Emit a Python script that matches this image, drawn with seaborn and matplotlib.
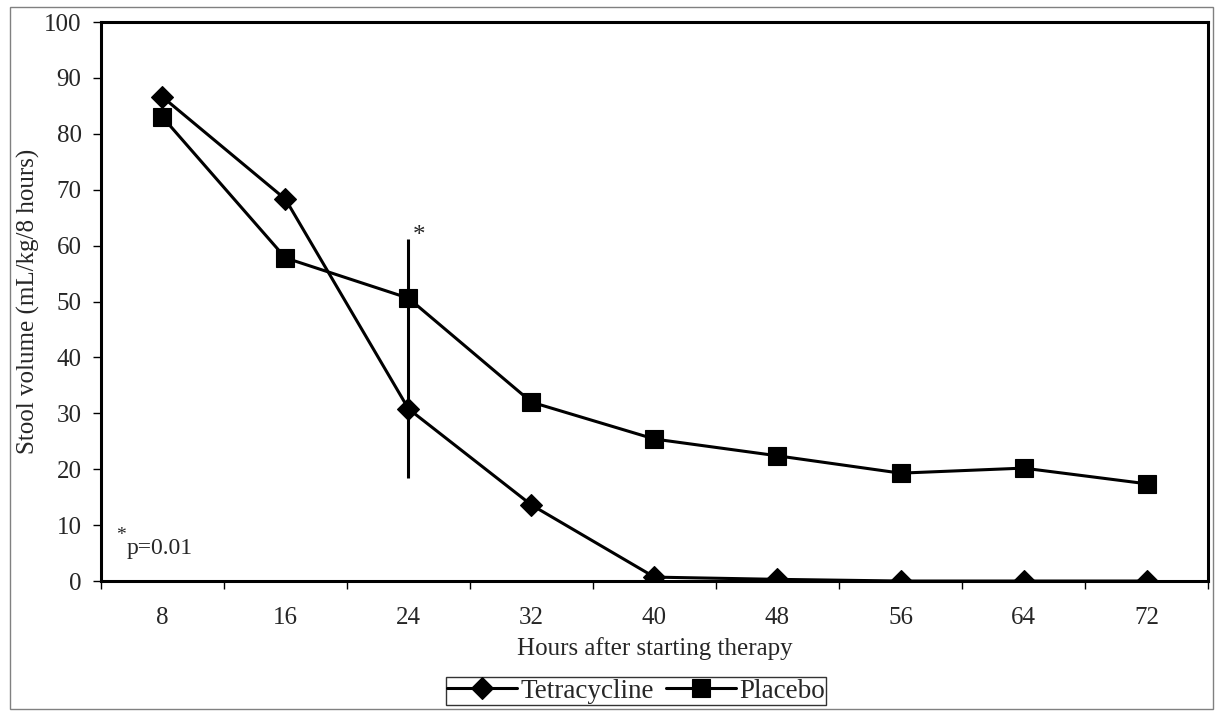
import matplotlib.pyplot as plt
import matplotlib.patches as mpatches
import pandas as pd
import seaborn as sns

# Data
hours = [8, 16, 24, 32, 40, 48, 56, 64, 72]
tetracycline = [86.6, 68.3, 30.8, 13.6, 0.7, 0.3, 0.0, 0.0, 0.0]
placebo = [83.0, 57.8, 50.6, 32.0, 25.4, 22.4, 19.3, 20.2, 17.4]

# vertical bar at 24 h, with the significance mark
bar_hour = 24
bar_low, bar_high = 18.4, 61.2

sns.set_style("white")
plt.rcParams["font.family"] = ["Liberation Serif", "DejaVu Serif"]

df = pd.DataFrame({"hours": hours, "Tetracycline": tetracycline, "Placebo": placebo})

fig = plt.figure(figsize=(12.18, 7.11), dpi=100)
ax = fig.add_axes([0.0829, 0.1828, 0.9089, 0.7862])

sns.lineplot(data=df, x="hours", y="Tetracycline", ax=ax, color="black", linewidth=2.2,
             marker="D", markersize=11.5, markeredgewidth=0.8, markeredgecolor="black",
             label="Tetracycline")
sns.lineplot(data=df, x="hours", y="Placebo", ax=ax, color="black", linewidth=2.2,
             marker="s", markersize=13.5, markeredgewidth=0.8, markeredgecolor="black",
             label="Placebo")

ax.vlines(bar_hour, bar_low, bar_high, color="black", linewidth=2.2)
ax.text(bar_hour + 0.3, 60.6, "*", fontsize=18, ha="left", va="baseline")

# footnote
ax.text(5.0, 7.3, "*", fontsize=14, ha="left", va="baseline")
ax.text(5.7, 4.8, "p=0.01", fontsize=17, ha="left", va="baseline")

ax.set_xlim(4, 76)
ax.set_ylim(0, 100)
ax.set_xticks(hours)
ax.set_xticklabels([str(h) for h in hours])
ax.set_xticks([h - 4 for h in hours] + [76], minor=True)
ax.set_yticks(range(0, 101, 10))
ax.tick_params(axis="x", which="major", length=0, labelsize=18, pad=18.5)
ax.tick_params(axis="x", which="minor", length=6, width=1.0, bottom=True, color="black")
ax.tick_params(axis="y", length=6, width=1.0, left=True, labelsize=18, pad=8, color="black")

for s in ax.spines.values():
    s.set_color("black")
    s.set_linewidth(2.2)

ax.set_xlabel("Hours after starting therapy", fontsize=18, labelpad=6)
ax.set_ylabel("Stool volume (mL/kg/8 hours)", fontsize=18)
ax.yaxis.set_label_coords(-0.0555, 0.5)

handles, labels = ax.get_legend_handles_labels()
ax.get_legend().remove()
leg = fig.legend(handles, labels, loc="lower center", bbox_to_anchor=(0.522, 0.0084),
                 ncol=2, fontsize=19.5, frameon=True, fancybox=False, shadow=False,
                 handlelength=2.6, handletextpad=0.1, columnspacing=0.45,
                 borderpad=0.05, borderaxespad=0.0)
leg.get_frame().set_edgecolor("black")
leg.get_frame().set_linewidth(1.0)

# thin frame around the whole chart
fig.patches.append(mpatches.Rectangle((0.008, 0.003), 0.988, 0.987, transform=fig.transFigure,
                                      fill=False, edgecolor="#808080", linewidth=1.0))

fig.savefig("out.png", dpi=100)
